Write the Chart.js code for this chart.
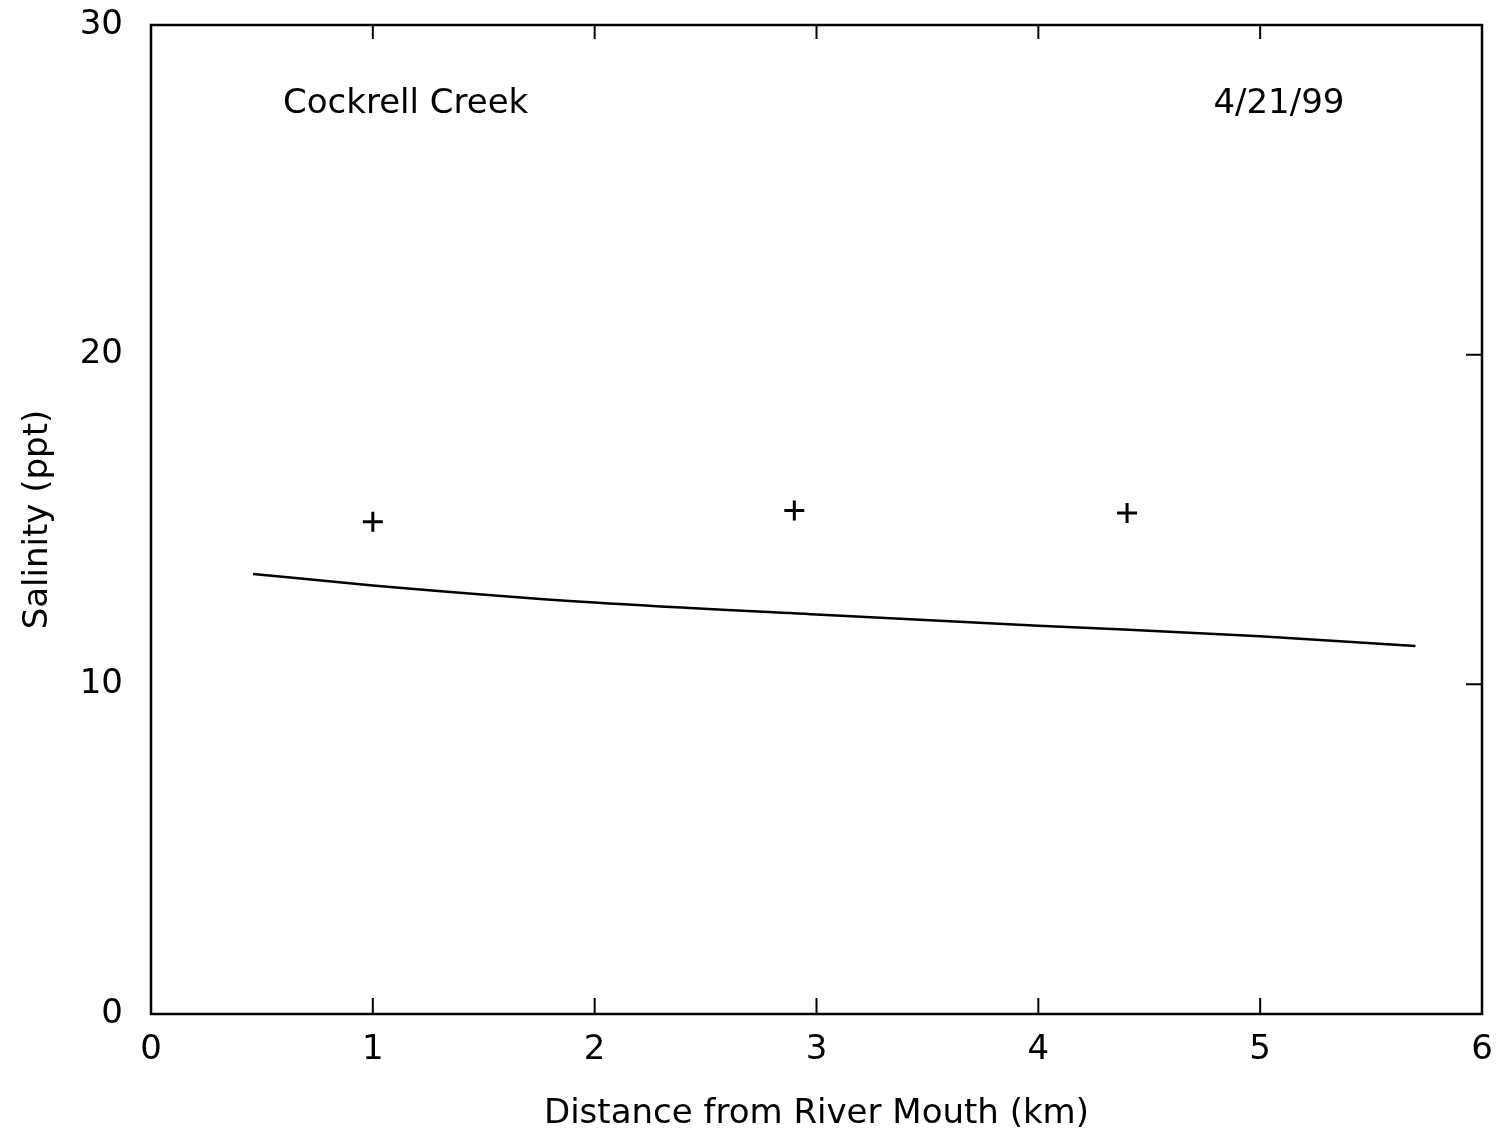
<!DOCTYPE html>
<html>
<head>
<meta charset="utf-8">
<title>Cockrell Creek salinity</title>
<script src="https://cdn.jsdelivr.net/npm/chart.js@4/dist/chart.umd.min.js"></script>
<style>
  html, body { margin: 0; padding: 0; background: #fff; }
  #wrap { width: 1502px; height: 1135px; }
</style>
</head>
<body>
<div id="wrap"><canvas id="salChart" width="1502" height="1135"></canvas></div>
<script>
// measured stations (distance km, salinity ppt)
const stationKm = [1.0, 2.9, 4.4];
const stationSal = [14.93, 15.27, 15.2];

// fitted salinity curve along the creek
const fitKm = [0.46, 1, 2, 3, 4, 5, 5.7];
const fitSal = [13.35, 13.0, 12.48, 12.12, 11.78, 11.46, 11.16];

const xTicks = [0, 1, 2, 3, 4, 5, 6];
const yTicks = [0, 10, 20, 30];

const siteName = 'Cockrell Creek';
const sampleDate = '4/21/99';

const FONT = 'DejaVu Sans';
const FONT_SIZE = 34;

// frame around the plot with inward tick marks, plus the two text labels
const framePlugin = {
    id: 'frame',
    afterDraw(chart) {
        const { ctx, chartArea: a, scales: { x, y } } = chart;
        ctx.save();
        ctx.strokeStyle = '#000';
        ctx.lineWidth = 2.5;
        ctx.strokeRect(a.left, a.top, a.right - a.left, a.bottom - a.top);

        ctx.lineWidth = 2;
        ctx.beginPath();
        xTicks.slice(1, -1).forEach(v => {
            const px = x.getPixelForValue(v);
            ctx.moveTo(px, a.bottom);
            ctx.lineTo(px, a.bottom - 16);
            ctx.moveTo(px, a.top);
            ctx.lineTo(px, a.top + 14);
        });
        yTicks.slice(1, -1).forEach(v => {
            const py = y.getPixelForValue(v);
            ctx.moveTo(a.right, py);
            ctx.lineTo(a.right - 16, py);
        });
        ctx.stroke();

        ctx.fillStyle = '#000';
        ctx.font = `${FONT_SIZE}px "${FONT}"`;
        ctx.textBaseline = 'middle';
        ctx.textAlign = 'left';
        ctx.fillText(siteName, x.getPixelForValue(0.595), y.getPixelForValue(27.6));
        ctx.textAlign = 'right';
        ctx.fillText(sampleDate, x.getPixelForValue(5.38), y.getPixelForValue(27.6));
        ctx.restore();
    }
};

new Chart(document.getElementById('salChart').getContext('2d'), {
    type: 'scatter',
    data: {
        datasets: [
            {
                label: 'Fit',
                data: fitKm.map((d, i) => ({ x: d, y: fitSal[i] })),
                showLine: true,
                borderColor: '#000',
                borderWidth: 2.5,
                pointRadius: 0,
                cubicInterpolationMode: 'monotone',
            },
            {
                label: 'Observed',
                data: stationKm.map((d, i) => ({ x: d, y: stationSal[i] })),
                pointStyle: 'cross',
                pointRadius: 10,
                borderColor: '#000',
                borderWidth: 3,
            },
        ],
    },
    options: {
        responsive: false,
        animation: false,
        devicePixelRatio: 1,
        layout: { padding: { top: 25, right: 20, left: 0, bottom: 0 } },
        plugins: {
            legend: { display: false },
            tooltip: { enabled: false },
        },
        scales: {
            x: {
                type: 'linear',
                min: 0,
                max: 6,
                afterBuildTicks: s => { s.ticks = xTicks.map(v => ({ value: v })); },
                afterFit: s => {
                    s.height = 121;
                    s.paddingLeft = 0;
                    s.paddingRight = 0;
                },
                grid: { display: false, drawTicks: false },
                border: { display: false },
                ticks: {
                    color: '#000',
                    padding: 16,
                    font: { family: FONT, size: FONT_SIZE },
                },
                title: {
                    display: true,
                    text: 'Distance from River Mouth (km)',
                    color: '#000',
                    font: { family: FONT, size: FONT_SIZE },
                    padding: { top: 12, bottom: 0 },
                },
            },
            y: {
                type: 'linear',
                min: 0,
                max: 30,
                afterBuildTicks: s => { s.ticks = yTicks.map(v => ({ value: v })); },
                afterFit: s => {
                    s.width = 151;
                    s.paddingTop = 0;
                    s.paddingBottom = 0;
                },
                grid: { display: false, drawTicks: false },
                border: { display: false },
                ticks: {
                    color: '#000',
                    padding: 28,
                    font: { family: FONT, size: FONT_SIZE },
                },
                title: {
                    display: true,
                    text: 'Salinity (ppt)',
                    color: '#000',
                    font: { family: FONT, size: FONT_SIZE },
                    padding: { top: 18, bottom: 0 },
                },
            },
        },
    },
    plugins: [framePlugin],
});
</script>
</body>
</html>
